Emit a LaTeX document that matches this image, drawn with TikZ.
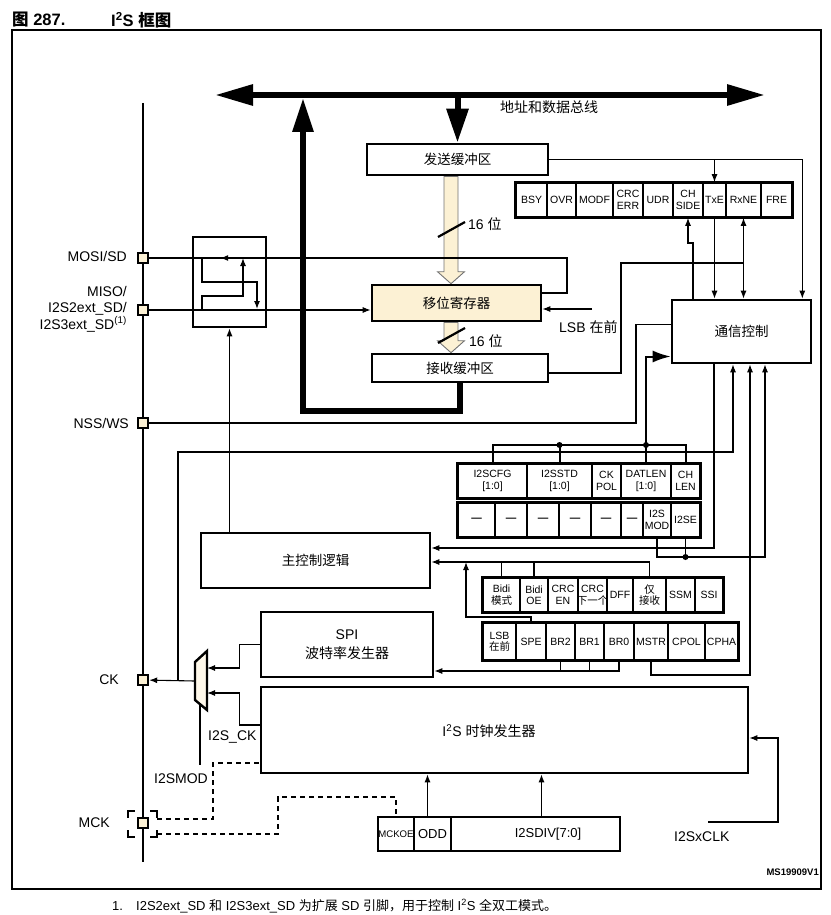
\documentclass[tikz,border=0pt]{standalone}
\usepackage{fontspec}
\setmainfont{Liberation Sans}
\newfontfamily\cjk{Noto Sans CJK SC}
\usepackage{tikz}
\definecolor{cream}{RGB}{252,241,212}
\usetikzlibrary{arrows.meta}
\usetikzlibrary{calc}
\usetikzlibrary{decorations.markings}
\pgfdeclarelayer{edgelayer}
\pgfdeclarelayer{nodelayer}
\pgfsetlayers{edgelayer,nodelayer,main}
\newcommand{\zh}[1]{{\cjk #1}}
\newcommand{\fatarrow}[3]{\draw [style = fat] let \p1 = (#2.south), \p2 = (#3.north) in
    (#1pt-7pt, \y1) -- (#1pt+7pt, \y1) -- (#1pt+7pt, \y2+12pt) -- (#1pt+13.5pt, \y2+12pt)
    -- (#1pt, \y2) -- (#1pt-13.5pt, \y2+12pt) -- (#1pt-7pt, \y2+12pt) -- cycle;}
\tikzstyle{blk}=[draw=black, line width=2.6pt, fill=white, inner sep=0pt, font=\fontsize{13.5}{18}\selectfont]
\tikzstyle{cell}=[draw=black, line width=1.6pt, fill=white, inner sep=0pt, align=center, font=\fontsize{10.5}{11.5}\selectfont]
\tikzstyle{rowframe}=[draw=black, line width=3pt]
\tikzstyle{padbox}=[draw=black, line width=2.4pt, fill=cream, minimum size=10pt, inner sep=0pt]
\tikzstyle{txt}=[inner sep=0pt, font=\fontsize{14}{16.5}\selectfont]
\tikzstyle{wire}=[line width=1.1pt]
\tikzstyle{bus}=[line width=6pt]
\tikzstyle{fat}=[draw=black!55, fill=cream, line width=0.9pt]
\tikzstyle{jdot}=[circle, fill=black, inner sep=0pt, minimum size=6pt]
\tikzstyle{dashwire}=[line width=1.2pt, dash pattern=on 5pt off 4pt]
\tikzstyle{outmark}=[decoration={markings, mark=at position -71pt with {\arrow{Latex[length=8pt, width=6pt]}}}, postaction={decorate}]

\begin{document}
\begin{tikzpicture}[x=1pt, y=-1pt, >={Latex[length=8pt, width=6pt]}]
        \useasboundingbox (0, 0) rectangle (830, 915);
        \begin{pgfonlayer}{nodelayer}
            \node [style = txt, anchor = west, font = \bfseries\fontsize{16.5}{18}\selectfont] (fig) at (12, 20) {\zh{图} 287.};
            \node [style = txt, anchor = west, font = \bfseries\fontsize{16.5}{18}\selectfont] (title) at (111, 20) {I\textsuperscript{2}S \zh{框图}};

            \node [style = blk, minimum width = 181, minimum height = 31] (txbuf) at (457.5, 159.5) {\zh{发送缓冲区}};
            \node [style = blk, fill = cream, minimum width = 169, minimum height = 36] (shreg) at (456.5, 303) {\zh{移位寄存器}};
            \node [style = blk, minimum width = 176, minimum height = 28] (rxbuf) at (460, 368) {\zh{接收缓冲区}};
            \node [style = blk, minimum width = 139, minimum height = 63] (comm) at (741.5, 331.5) {\zh{通信控制}};
            \node [style = blk, fill = none, minimum width = 73, minimum height = 90] (sw) at (229.5, 282) {};
            \node [style = blk, minimum width = 229, minimum height = 55] (mainctl) at (315.5, 560.5) {\zh{主控制逻辑}};
            \node [style = blk, align = center, font = \fontsize{14}{19}\selectfont, minimum width = 172, minimum height = 65] (spi) at (347, 644.5) {SPI\\\zh{波特率发生器}};
            \node [style = blk, minimum width = 487, minimum height = 86] (clkgen) at (504.5, 730) {};
            \node [style = txt] (clktxt) at (489, 731) {I\textsuperscript{2}S \zh{时钟发生器}};

            \node [style = cell, fill = none, line width = 2pt, minimum width = 36, minimum height = 34, font = \fontsize{9.6}{11}\selectfont] (mckoe) at (396, 834) {MCKOE};
            \node [style = cell, fill = none, line width = 2pt, minimum width = 37, minimum height = 34, font = \fontsize{13}{15}\selectfont] (odd) at (432.5, 834) {ODD};
            \node [style = cell, fill = none, line width = 2pt, minimum width = 169, minimum height = 34, font = \fontsize{13}{15}\selectfont] (div) at (535.5, 834) {\hspace{25pt}I2SDIV[7:0]};

            % status flags
            \foreach \xa/\xb/\lbl [count=\i] in {516/547/BSY, 547/576/OVR, 576/613/MODF, 613/643/{CRC\\ERR}, 643/673/UDR, 673/703/{CH\\SIDE}, 703/726/TxE, 726/761/RxNE, 761/792/FRE}
                \node [style = cell, minimum width = \xb-\xa, minimum height = 34] (st\i) at ({(\xa+\xb)/2}, 200) {\lbl};
            % I2S config
            \foreach \xa/\xb/\lbl [count=\i] in {458/527/{I2SCFG\\{[1:0]}}, 527/592/{I2SSTD\\{[1:0]}}, 592/621/{CK\\POL}, 621/671/{DATLEN\\{[1:0]}}, 671/700/{CH\\LEN}}
                \node [style = cell, minimum width = \xb-\xa, minimum height = 34] (i\i) at ({(\xa+\xb)/2}, 481) {\lbl};
            \foreach \xa/\xb/\lbl [count=\i] in {458/495/\textbf{—}, 495/527/\textbf{—}, 527/559/\textbf{—}, 559/591/\textbf{—}, 591/621/\textbf{—}, 621/643/\textbf{—}, 643/671/{I2S\\MOD}, 671/700/I2SE}
                \node [style = cell, minimum width = \xb-\xa, minimum height = 34] (j\i) at ({(\xa+\xb)/2}, 520) {\lbl};
            % SPI config
            \foreach \xa/\xb/\lbl [count=\i] in {483/520/{Bidi\\\zh{模式}}, 520/548/{Bidi\\OE}, 548/578/{CRC\\EN}, 578/607/{CRC\\\makebox[0pt]{\zh{下一个}}}, 607/633/DFF, 633/666/{\zh{仅}\\\zh{接收}}, 666/695/SSM, 695/723/SSI}
                \node [style = cell, minimum width = \xb-\xa, minimum height = 34] (b\i) at ({(\xa+\xb)/2}, 595) {\lbl};
            \foreach \xa/\xb/\lbl [count=\i] in {483/516/{LSB\\\zh{在前}}, 516/546/SPE, 546/575/BR2, 575/604/BR1, 604/634/BR0, 634/668/MSTR, 668/705/CPOL, 705/738/CPHA}
                \node [style = cell, minimum width = \xb-\xa, minimum height = 37] (c\i) at ({(\xa+\xb)/2}, 641.5) {\lbl};

            \draw [style = rowframe] (st1.north west) rectangle (st9.south east);
            \draw [style = rowframe] (i1.north west) rectangle (i5.south east);
            \draw [style = rowframe] (j1.north west) rectangle (j8.south east);
            \draw [style = rowframe] (b1.north west) rectangle (b8.south east);
            \draw [style = rowframe] (c1.north west) rectangle (c8.south east);

            % pins
            \node [style = padbox] (mosi) at (143, 258) {};
            \node [style = padbox] (miso) at (143, 310) {};
            \node [style = padbox] (nss) at (143, 423) {};
            \node [style = padbox] (ck) at (143, 680) {};
            \node [style = padbox] (mck) at (143, 823) {};
            \node [minimum width = 29, minimum height = 26, inner sep = 0pt] (mckfrm) at (142.5, 824) {};

            \node [style = txt, anchor = east] (mosil) at (127, 256) {MOSI/SD};
            \node [style = txt, anchor = east, align = right] (misol) at (127, 309) {MISO/\\I2S2ext\_SD/\\I2S3ext\_SD\textsuperscript{(1)}};
            \node [style = txt, anchor = east] (nssl) at (129, 423) {NSS/WS};
            \node [style = txt, anchor = east] (ckl) at (119, 680) {CK};
            \node [style = txt, anchor = east] (mckl) at (110, 823) {MCK};

            \draw [line width = 2.4pt, fill = cream!50, line join = miter] (195, 662) -- (207, 651) -- (207, 710) -- (195, 700) -- cycle;

            \node [style = txt] (buslbl) at (549, 107) {\zh{地址和数据总线}};
            \node [style = txt, anchor = west] (w16a) at (468, 224) {16 \zh{位}};
            \node [style = txt, anchor = west] (w16b) at (469, 341) {16 \zh{位}};
            \node [style = txt, anchor = west] (lsbl) at (559, 327) {LSB \zh{在前}};
            \node [style = txt, anchor = west] (i2sck) at (208, 737) {I2S\_CK};
            \node [style = txt] (i2smod) at (181, 779) {I2SMOD};
            \node [style = txt, anchor = west] (xclkl) at (674, 837) {I2SxCLK};
            \node [style = txt, anchor = east, font = \bfseries\fontsize{9.5}{11}\selectfont] (ver) at (819, 872) {MS19909V1};
            \node [style = txt, anchor = west, font = \fontsize{13}{15}\selectfont] (note) at (112, 906) {\makebox[24pt][l]{1.}I2S2ext\_SD \zh{和} I2S3ext\_SD \zh{为扩展} SD \zh{引脚，用于控制} I\textsuperscript{2}S \zh{全双工模式。}};

            \coordinate (busl) at (215, 95);
            \coordinate (busr) at (765, 95);
            \coordinate (busup) at (303, 98);
            \coordinate (railt) at (143, 103);
            \coordinate (railb) at (143, 862);
            \coordinate (mosij) at (567, 258);
            \coordinate (lsbsrc) at (592, 309);
            \coordinate (rxj) at (621, 263);
            \coordinate (chs) at (693, 243);
            \coordinate (nssj) at (636, 423);
            \coordinate (cfgbus) at (0, 445);
            \coordinate (modj) at (765, 557);
            \coordinate (ckj) at (178, 452);
            \coordinate (cki) at (733, 452);
            \coordinate (ctl) at (714, 548);
            \coordinate (bidi) at (0, 562);
            \coordinate (spej) at (466, 617);
            \coordinate (brj) at (0, 671);
            \coordinate (msj) at (750, 675);
            \coordinate (muxo) at (195, 681);
            \coordinate (muxa) at (207, 668);
            \coordinate (muxb) at (207, 693);
            \coordinate (muxs) at (200, 704);
            \coordinate (sel) at (200, 765);
            \coordinate (mcka) at (213, 763);
            \coordinate (mckb) at (278, 797);
            \coordinate (oddt) at ([xshift=-5pt]odd.north);
            \coordinate (divt) at ([xshift=6pt]div.north);
            \coordinate (xclk) at (708, 822);
            \coordinate (xclkc) at (778, 738);

            \node [style = jdot] (cfgd1) at (i2.north |- cfgbus) {};
            \node [style = jdot] (cfgd2) at (i4.north |- cfgbus) {};
            \node [style = jdot] (modd) at (j8.south |- modj) {};
        \end{pgfonlayer}

        \begin{pgfonlayer}{edgelayer}
            \draw [line width = 1.3pt] (12, 30) rectangle (821, 889);
            \draw [style = wire] (railt) -- (railb);

            \draw [style = bus, {Triangle[length=38pt, width=20pt]}-{Triangle[length=38pt, width=20pt]}] (busl) -- (busr);
            \draw [style = bus, -{Triangle[length=34pt, width=21pt]}] (txbuf.north |- busr) -- (txbuf.north);
            \draw [style = bus, -{Triangle[length=34pt, width=20pt]}] (rxbuf.south) -- ++(0, 28) -| (busup);

            \fatarrow{451}{txbuf}{shreg}
            \fatarrow{451}{shreg}{rxbuf}
            \draw [line width = 2.2pt] (438, 237) -- (465, 222);
            \draw [line width = 2.2pt] (438, 343) -- (465, 328);

            \draw [style = wire, style = outmark] ([yshift=10pt]shreg.east) -| (mosij) -- (mosi);
            \draw [style = wire, ->] (miso) -- (miso -| shreg.west);
            \draw [style = wire, ->] (202, 258) |- (257, 282) -- (257, 309);
            \draw [style = wire, ->] (202, 309) |- (243, 296) -- (243, 258);
            \draw [style = wire, ->] (mainctl.north -| sw.south) -- (sw.south);
            \draw [style = wire, ->] (lsbsrc) -- (lsbsrc -| shreg.east);

            \draw [style = wire] (nss) -- (nssj) |- ([yshift=7pt]comm.west);
            \draw [style = wire, ->] (txbuf.east) -| ([xshift=-10pt]comm.north east);
            \draw [style = wire, ->] (st7.north |- txbuf.east) -- (st7.north);
            \draw [style = wire, ->] (st7.south) -- (st7.south |- comm.north);
            \draw [style = wire, <->] (st8.south) -- (st8.south |- comm.north);
            \draw [style = wire, ->] (comm.north -| chs) -- (chs) -| (st6.south);
            \draw [style = wire] ([yshift=-5pt]rxbuf.east) -| (rxj) -- (rxj -| st8.south);

            \draw [line width = 2pt] (i1.north) |- (i5.north |- cfgbus) -- (i5.north);
            \draw [line width = 2pt] (i2.north) -- (i2.north |- cfgbus);
            \draw [line width = 2pt, -{Latex[length=18pt, width=12pt]}] (i4.north) -- (i4.north |- cfgbus) |- ([yshift=-25pt]comm.west);

            \draw [style = wire, ->] (j7.south) |- (modj) -- (comm.south -| modj);
            \draw [style = wire] (j8.south) -- (j8.south |- modj);
            \draw [style = wire, ->] (ck -| ckj) -- (ckj) -- (cki) -- (comm.south -| cki);
            \draw [style = wire, ->] (comm.south -| ctl) -- (ctl) -- (ctl -| mainctl.east);

            \draw [style = wire, ->] (b6.north) -- (b6.north |- bidi) -- (mainctl.east |- bidi);
            \draw [style = wire] (b1.north) -- (b1.north |- bidi);
            \draw [style = wire] (b2.north) -- (b2.north |- bidi);
            \draw [style = wire, ->] (c2.north) |- (spej) -- (spej |- bidi);
            \draw [style = wire, ->] (c5.south) |- (spi.east |- brj);
            \draw [style = wire] (c3.south) -- (c3.south |- brj);
            \draw [style = wire] (c4.south) -- (c4.south |- brj);
            \draw [style = wire, ->] (c6.south) |- (msj) -- (comm.south -| msj);

            \draw [style = wire, ->] (spi.west) -- ++(-20, 0) |- (muxa);
            \draw [style = wire, ->] ([yshift=5pt]clkgen.west) -- ++(-20, 0) |- (muxb);
            \draw [style = wire, ->] (muxo) -- (ck);
            \draw [line width = 2pt] (muxs) -- (sel);

            \draw [line width = 1.6pt] ([yshift=-7pt]mckfrm.north west) |- ([xshift=7pt]mckfrm.north west);
            \draw [line width = 1.6pt] ([xshift=-7pt]mckfrm.north east) -| ([yshift=-7pt]mckfrm.north east);
            \draw [line width = 1.6pt] ([yshift=7pt]mckfrm.south west) |- ([xshift=7pt]mckfrm.south west);
            \draw [line width = 1.6pt] ([xshift=-7pt]mckfrm.south east) -| ([yshift=7pt]mckfrm.south east);
            \draw [style = dashwire] ([yshift=5pt]mckfrm.east) -| (mcka) -- (mcka -| clkgen.west);
            \draw [style = dashwire] ([yshift=-10pt]mckfrm.east) -| (mckb) -| (mckoe.north);

            \draw [style = wire, ->] (oddt) -- (oddt |- clkgen.south);
            \draw [style = wire, ->] (divt) -- (divt |- clkgen.south);
            \draw [style = wire, ->] (xclk) -| (xclkc) -- (xclkc -| clkgen.east);
        \end{pgfonlayer}
    \end{tikzpicture}
\end{document}
